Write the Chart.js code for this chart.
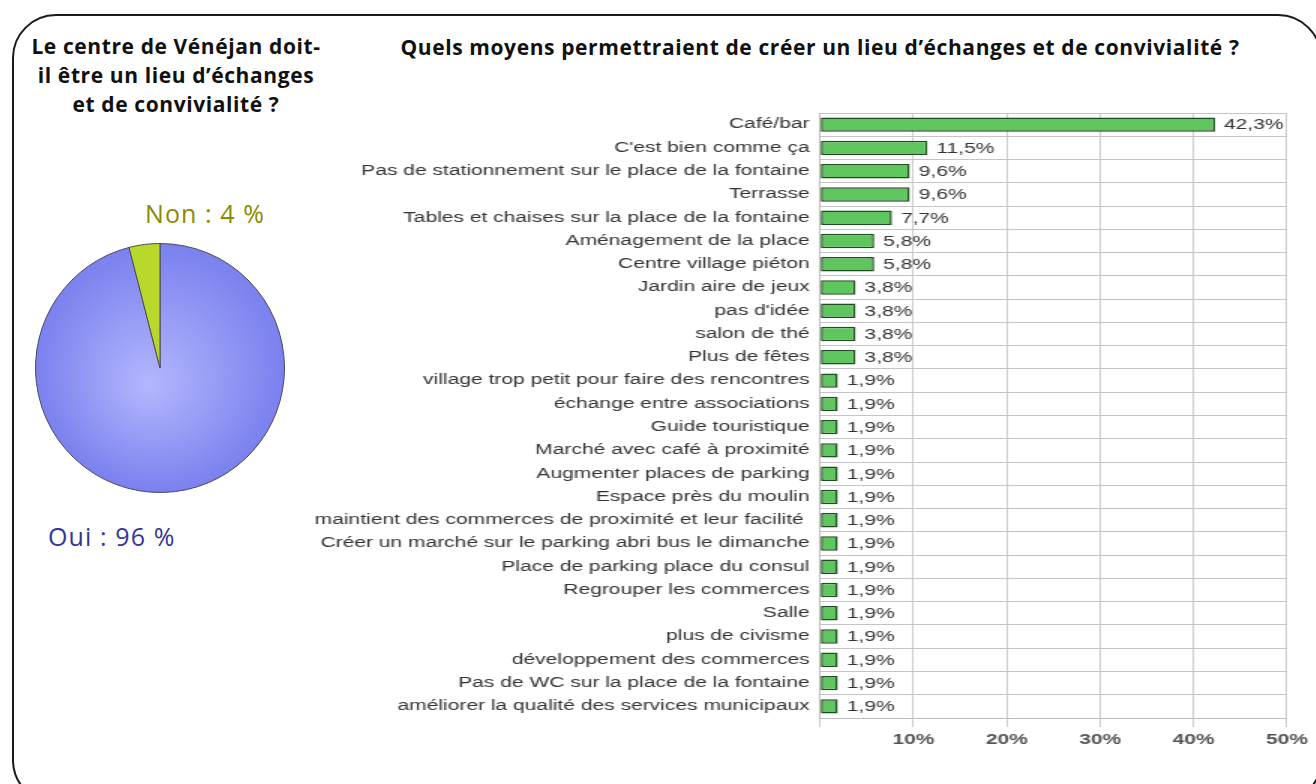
<!DOCTYPE html>
<html lang="fr">
<head>
<meta charset="utf-8">
<script src="https://cdn.jsdelivr.net/npm/chart.js@4/dist/chart.umd.min.js"></script>
<style>
  html, body { margin: 0; padding: 0; background: #fff; width: 1316px; height: 784px; overflow: hidden; position: relative; }
  #frame { position: absolute; left: 12px; top: 14px; width: 1310px; height: 790px; box-sizing: border-box; border: 2px solid #1a1a1a; border-radius: 44px; }
  .title { position: absolute; font-family: "Open Sans", Lato, sans-serif; font-weight: bold; color: #111; text-align: center; white-space: nowrap; letter-spacing: 0.6px; }
  #t1 { left: 16px; top: 32px; width: 320px; font-size: 21px; line-height: 29px; }
  #t2 { left: 320px; top: 33px; width: 1000px; font-size: 21px; line-height: 29px; }
  .plbl { position: absolute; font-family: "Open Sans", Lato, sans-serif; font-size: 25px; line-height: 30px; white-space: nowrap; letter-spacing: 1.1px; }
  #non { left: 145px; top: 198px; color: #8b8b00; }
  #oui { left: 48px; top: 521px; color: #35359b; }
  #pieWrap { position: absolute; left: 35px; top: 243px; }
  #barWrap { position: absolute; left: 300px; top: 90px; transform: scaleX(1.5); transform-origin: 0 0; }
</style>
</head>
<body>
<div id="frame"></div>
<div class="title" id="t1">Le centre de Vénéjan doit-<br>il être un lieu d’échanges<br>et de convivialité ?</div>
<div class="title" id="t2">Quels moyens permettraient de créer un lieu d’échanges et de convivialité ?</div>
<div class="plbl" id="non">Non : 4 %</div>
<div class="plbl" id="oui">Oui : 96 %</div>
<div id="pieWrap"><canvas id="pie" width="250" height="250"></canvas></div>
<div id="barWrap"><canvas id="bar" width="677" height="680"></canvas></div>
<script>
// ---- Pie data ----
const pieLabels = ["Oui", "Non"];
const pieValues = [96, 4];

// ---- Bar data ----
const categories = [
  "Café/bar",
  "C'est bien comme ça",
  "Pas de stationnement sur le place de la fontaine",
  "Terrasse",
  "Tables et chaises sur la place de la fontaine",
  "Aménagement de la place",
  "Centre village piéton",
  "Jardin aire de jeux",
  "pas d'idée",
  "salon de thé",
  "Plus de fêtes",
  "village trop petit pour faire des rencontres",
  "échange entre associations",
  "Guide touristique",
  "Marché avec café à proximité",
  "Augmenter places de parking",
  "Espace près du moulin",
  "maintient des commerces de proximité et leur facilité ",
  "Créer un marché sur le parking abri bus le dimanche",
  "Place de parking place du consul",
  "Regrouper les commerces",
  "Salle",
  "plus de civisme",
  "développement des commerces",
  "Pas de WC sur la place de la fontaine",
  "améliorer la qualité des services municipaux"
];
const percentages = [42.3, 11.5, 9.6, 9.6, 7.7, 5.8, 5.8, 3.8, 3.8, 3.8, 3.8,
  1.9, 1.9, 1.9, 1.9, 1.9, 1.9, 1.9, 1.9, 1.9, 1.9, 1.9, 1.9, 1.9, 1.9, 1.9];
const xTicks = [0, 10, 20, 30, 40, 50];

// ---- Pie chart ----
new Chart(document.getElementById('pie'), {
  type: 'pie',
  data: {
    labels: pieLabels,
    datasets: [{
      data: pieValues,
      backgroundColor: (ctx) => {
        const chart = ctx.chart;
        const a = chart.chartArea;
        if (!a) return '#8a8ff2';
        if (ctx.dataIndex === 1) return '#b8d82c';
        const cx = (a.left + a.right) / 2, cy = (a.top + a.bottom) / 2;
        const r = Math.min(a.right - a.left, a.bottom - a.top) / 2;
        const g = chart.ctx.createRadialGradient(cx - 12, cy + 18, 0, cx, cy, r);
        g.addColorStop(0, '#b3b7fd');
        g.addColorStop(1, '#7a80ee');
        return g;
      },
      borderColor: '#4a4a5a',
      borderWidth: 1
    }]
  },
  options: {
    responsive: false,
    animation: false,
    layout: { padding: 0 },
    plugins: { legend: { display: false }, tooltip: { enabled: false } }
  }
});

// ---- Bar chart ----
const valueLabels = {
  id: 'valueLabels',
  afterDatasetsDraw(chart) {
    const ctx = chart.ctx;
    const meta = chart.getDatasetMeta(0);
    ctx.save();
    ctx.font = '14px "Liberation Sans", Arial, sans-serif';
    ctx.fillStyle = '#333';
    ctx.textAlign = 'left';
    ctx.textBaseline = 'middle';
    meta.data.forEach((el, i) => {
      const v = chart.data.datasets[0].data[i];
      ctx.fillText(v.toFixed(1).replace('.', ',') + '%', el.x + 6, el.y + 1);
    });
    ctx.restore();
  }
};

new Chart(document.getElementById('bar'), {
  type: 'bar',
  data: {
    labels: categories,
    datasets: [{
      data: percentages,
      backgroundColor: '#5fc65f',
      borderColor: '#1f4d1f',
      borderWidth: 1.5,
      borderSkipped: false,
      barPercentage: 0.62,
      categoryPercentage: 1
    }]
  },
  options: {
    indexAxis: 'y',
    responsive: false,
    animation: false,
    layout: { padding: { top: 23, right: 17, left: 0, bottom: 0 } },
    plugins: { legend: { display: false }, tooltip: { enabled: false } },
    scales: {
      x: {
        min: 0, max: 50,
        afterBuildTicks: (s) => { s.ticks = xTicks.map(v => ({ value: v })); },
        afterFit: (s) => { s.height = 52; },
        grid: { color: '#cccccc', lineWidth: 1, tickLength: 9, drawTicks: true },
        border: { display: true, color: '#bdbdbd' },
        ticks: {
          padding: 5,
          color: '#555',
          font: { family: '"Liberation Sans", Arial, sans-serif', size: 14, weight: 'bold' },
          callback: (v) => v === 0 ? '' : v + '%'
        }
      },
      y: {
        afterFit: (s) => { s.width = 346.7; },
        grid: { color: '#c4c4c4', lineWidth: 1, drawTicks: false, offset: true },
        border: { display: true, color: '#bdbdbd' },
        ticks: {
          padding: 7,
          color: '#333',
          autoSkip: false,
          font: { family: '"Liberation Sans", Arial, sans-serif', size: 14 }
        }
      }
    }
  },
  plugins: [valueLabels]
});
</script>
</body>
</html>
